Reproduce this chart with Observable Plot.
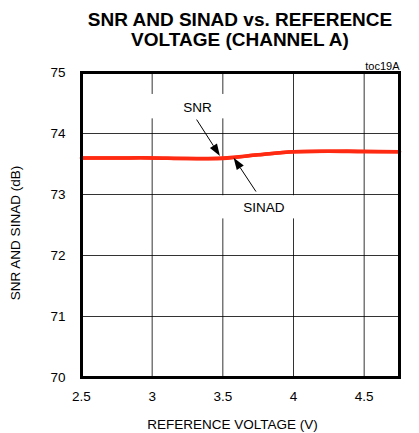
<!DOCTYPE html>
<html><head><meta charset="utf-8">
<script src="https://cdn.jsdelivr.net/npm/d3@7"></script>
<script src="https://cdn.jsdelivr.net/npm/@observablehq/plot@0.6"></script>
<style>
body{margin:0;background:#fff;}
#title{font-family:"Liberation Sans", Arial, sans-serif;font-weight:bold;font-size:19px;line-height:20px;text-align:center;margin-left:61px;width:358px;height:55px;padding-top:10px;box-sizing:border-box;color:#000;}
</style></head><body>
<div id="title">SNR AND SINAD vs. REFERENCE<br>VOLTAGE (CHANNEL A)</div>
<div id="chart"></div>
<script>
const voltage = [2.5, 2.75, 3, 3.25, 3.5, 3.75, 4, 4.25, 4.5, 4.75];
const snr     = [73.60, 73.60, 73.60, 73.59, 73.60, 73.65, 73.70, 73.71, 73.71, 73.70];
const sinad   = [73.60, 73.60, 73.60, 73.59, 73.59, 73.65, 73.70, 73.71, 73.70, 73.70];
const xTicks = [2.5, 3, 3.5, 4, 4.5];
const yTicks = [70, 71, 72, 73, 74, 75];
const xGrid = [3, 3.5, 4, 4.5];
const yGrid = [71, 72, 73, 74];
const xLabel = "REFERENCE VOLTAGE (V)";
const yLabel = "SNR AND SINAD (dB)";
const labels = [
  {text: "SNR", x: 3.32, y: 74.43},
  {text: "SINAD", x: 3.79, y: 72.79}
];
const labelBoxes = [
  {x1: 2.97, x2: 3.53, y1: 74.24, y2: 74.64},
  {x1: 3.47, x2: 4.03, y1: 72.60, y2: 72.98}
];
const arrows = [
  {x1: 3.318, y1: 74.22, x2: 3.483, y2: 73.625},
  {x1: 3.738, y1: 73.04, x2: 3.58, y2: 73.595}
];
const code = "toc19A";

const rows = [];
voltage.forEach((v, i) => {
  rows.push({series: "SNR", v, db: snr[i]});
  rows.push({series: "SINAD", v, db: sinad[i]});
});

const red = "#ff2a12";
const fs = 13.5;
const chart = Plot.plot({
  width: 419,
  height: 378,
  marginTop: 17,
  marginBottom: 56,
  marginLeft: 81,
  marginRight: 20,
  style: {fontFamily: "'Liberation Sans', Arial, sans-serif", fontSize: fs + "px", color: "#000", background: "#fff"},
  x: {domain: [2.5, 4.75], ticks: xTicks, tickFormat: d => String(d), tickSize: 0, tickPadding: 14, label: null},
  y: {domain: [70, 75], ticks: yTicks, tickFormat: d => String(d), tickSize: 0, tickPadding: 16, label: null},
  marks: [
    Plot.ruleX(xGrid, {stroke: "#000", strokeWidth: 1, strokeOpacity: 0.8}),
    Plot.ruleY(yGrid, {stroke: "#000", strokeWidth: 1, strokeOpacity: 0.8}),
    Plot.rect(labelBoxes, {x1: "x1", x2: "x2", y1: "y1", y2: "y2", fill: "#fff"}),
    Plot.line(rows, {x: "v", y: "db", z: "series", stroke: red, strokeWidth: 3.5, curve: "catmull-rom"}),
    (index, scales) => {
      const g = d3.create("svg:g");
      for (const a of arrows) {
        const x1 = scales.x(a.x1), y1 = scales.y(a.y1), x2 = scales.x(a.x2), y2 = scales.y(a.y2);
        const ang = Math.atan2(y2 - y1, x2 - x1), L = 12, W = 4.2;
        const bx = x2 - L * Math.cos(ang), by = y2 - L * Math.sin(ang);
        g.append("line").attr("x1", x1).attr("y1", y1).attr("x2", bx).attr("y2", by)
          .attr("stroke", "#000").attr("stroke-width", 1);
        g.append("path")
          .attr("d", `M${x2},${y2}L${bx - W * Math.sin(ang)},${by + W * Math.cos(ang)}L${bx + W * Math.sin(ang)},${by - W * Math.cos(ang)}Z`)
          .attr("fill", "#000");
      }
      return g.node();
    },
    Plot.text(labels, {x: "x", y: "y", text: "text", fill: "#000", fontSize: fs}),
    Plot.text([code], {frameAnchor: "top-right", dy: -10, fontSize: 11, fill: "#000"}),
    Plot.text([xLabel], {frameAnchor: "bottom", dx: -8, dy: 51, fontSize: fs, fill: "#000"}),
    Plot.text([yLabel], {frameAnchor: "left", textAnchor: "middle", lineAnchor: "middle", dx: -66, dy: 8, rotate: -90, fontSize: fs, fill: "#000"}),
    Plot.frame({stroke: "#000", strokeWidth: 3})
  ]
});
document.getElementById("chart").appendChild(chart);
</script>
</body></html>
